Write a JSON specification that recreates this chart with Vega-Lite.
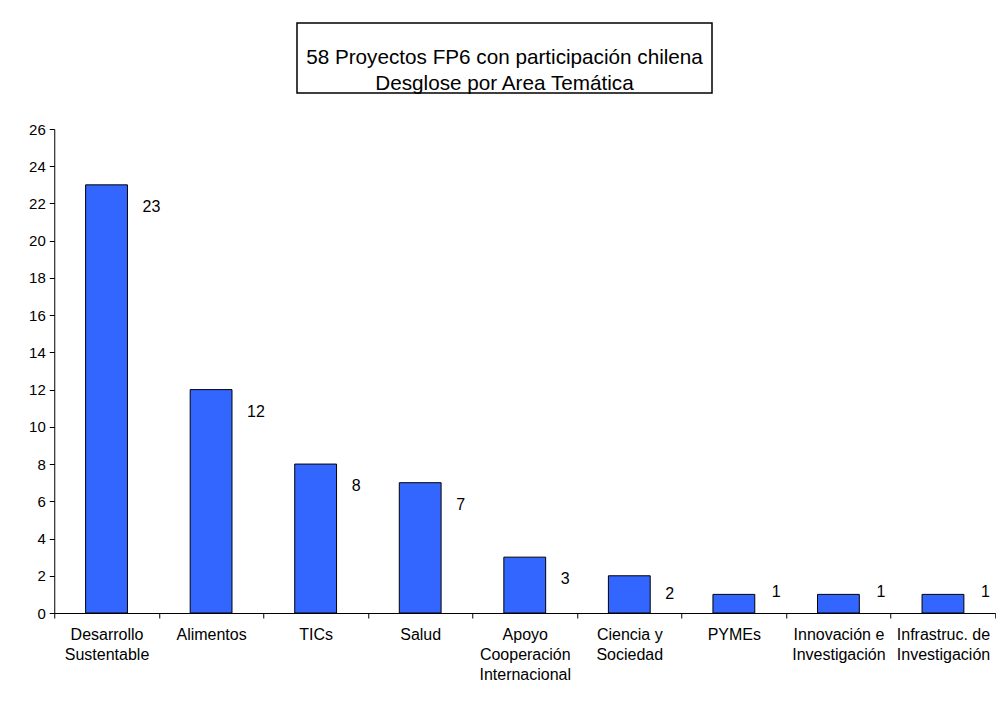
{
  "$schema": "https://vega.github.io/schema/vega-lite/v6.json",
  "background": "white",
  "padding": {"left": 28, "top": 22, "right": 0, "bottom": 0},
  "autosize": {"type": "pad"},
  "config": {
    "font": "Liberation Sans",
    "view": {"stroke": null}
  },
  "center": true,
  "spacing": 27,
  "vconcat": [
    {
      "spacing": 0,
      "hconcat": [
        {
          "width": 415,
          "height": 70,
          "view": {"stroke": "black", "strokeWidth": 1.5, "fill": "white"},
          "data": {"values": [{"id": 1}]},
          "mark": {
            "type": "text",
            "text": ["58 Proyectos FP6 con participación chilena", "Desglose por Area Temática"],
            "fontSize": 20.7,
            "lineHeight": 26,
            "baseline": "middle",
            "align": "center",
            "color": "black"
          }
        },
        {
          "width": 40,
          "height": 70,
          "data": {"values": [{"id": 1}]},
          "mark": {"type": "text", "text": ""}
        }
      ]
    },
    {
      "width": 941,
      "height": 484,
      "data": {
        "values": [
          {"area": "Desarrollo\nSustentable", "n": 23},
          {"area": "Alimentos", "n": 12},
          {"area": "TICs", "n": 8},
          {"area": "Salud", "n": 7},
          {"area": "Apoyo\nCooperación\nInternacional", "n": 3},
          {"area": "Ciencia y\nSociedad", "n": 2},
          {"area": "PYMEs", "n": 1},
          {"area": "Innovación e\nInvestigación", "n": 1},
          {"area": "Infrastruc. de\nInvestigación", "n": 1}
        ]
      },
      "encoding": {
        "x": {
          "field": "area",
          "type": "nominal",
          "sort": null,
          "scale": {"paddingInner": 0, "paddingOuter": 0},
          "axis": {
            "title": null,
            "labelAngle": 0,
            "tickBand": "extent",
            "labelExpr": "isValid(datum.value) ? split(datum.value, '\\n') : ''",
            "labelLineHeight": 20,
            "labelFontSize": 16,
            "labelPadding": 8,
            "tickSize": 5,
            "domainColor": "black",
            "tickColor": "black",
            "labelColor": "black",
            "labelLimit": 0,
            "labelOverlap": false,
            "labelBound": false
          }
        },
        "y": {
          "field": "n",
          "type": "quantitative",
          "scale": {"domain": [0, 26], "nice": false},
          "axis": {
            "title": null,
            "values": [0, 2, 4, 6, 8, 10, 12, 14, 16, 18, 20, 22, 24, 26],
            "grid": false,
            "labelFontSize": 15,
            "labelPadding": 4,
            "tickSize": 5,
            "domainColor": "black",
            "tickColor": "black",
            "labelColor": "black"
          }
        }
      },
      "layer": [
        {
          "mark": {"type": "bar", "width": {"band": 0.4}, "color": "#3366FF", "stroke": "black", "strokeWidth": 1}
        },
        {
          "transform": [{"filter": "datum.n >= 3"}],
          "mark": {"type": "text", "align": "left", "baseline": "middle", "dx": 36, "dy": 22, "fontSize": 16, "color": "black"},
          "encoding": {"text": {"field": "n", "type": "quantitative"}}
        },
        {
          "transform": [{"filter": "datum.n == 2"}],
          "mark": {"type": "text", "align": "left", "baseline": "middle", "dx": 36, "dy": 18, "fontSize": 16, "color": "black"},
          "encoding": {"text": {"field": "n", "type": "quantitative"}}
        },
        {
          "transform": [{"filter": "datum.n == 1"}],
          "mark": {"type": "text", "align": "left", "baseline": "middle", "dx": 38, "dy": -2, "fontSize": 16, "color": "black"},
          "encoding": {"text": {"field": "n", "type": "quantitative"}}
        }
      ]
    }
  ]
}
